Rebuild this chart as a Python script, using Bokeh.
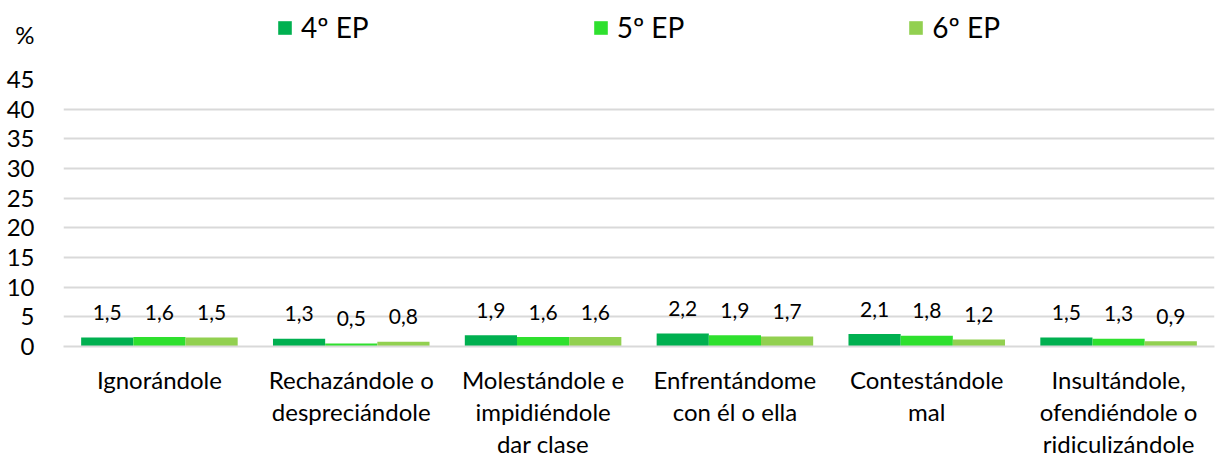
from bokeh.plotting import figure
from bokeh.models import ColumnDataSource, Legend, LegendItem, FactorRange, FixedTicker
from bokeh.layouts import column
from bokeh.transform import dodge
from bokeh.embed import file_html
from bokeh.resources import INLINE
from bokeh.core.properties import value

categories = ["Ignorándole", "Rechazándole o\ndespreciándole", "Molestándole e\nimpidiéndole\ndar clase",
              "Enfrentándome\ncon él o ella", "Contestándole\nmal", "Insultándole,\nofendiéndole o\nridiculizándole"]
series_names = ["4º EP", "5º EP", "6º EP"]
v4 = [1.5, 1.3, 1.9, 2.2, 2.1, 1.5]
v5 = [1.6, 0.5, 1.6, 1.9, 1.8, 1.3]
v6 = [1.5, 0.8, 1.6, 1.7, 1.2, 0.9]
y_ticks = [0, 5, 10, 15, 20, 25, 30, 35, 40, 45]
unit_label = "%"
colors = ["#00B050", "#2EE02E", "#92D050"]

FONT = "Lato"

def fmt(v):
    return f"{v:.1f}".replace(".", ",")

src = ColumnDataSource(dict(
    cat=categories, v4=v4, v5=v5, v6=v6,
    l4=[fmt(v) for v in v4], l5=[fmt(v) for v in v5], l6=[fmt(v) for v in v6],
))

# ---- header strip: legend and unit label ----
top = figure(width=1224, height=60, x_range=(0, 1151), y_range=(0, 60),
             x_axis_type=None, output_backend="svg", toolbar_location=None,
             min_border=0, min_border_left=63, min_border_right=10)
top.outline_line_color = None
top.grid.visible = False
top.yaxis.ticker = FixedTicker(ticks=[26])
top.yaxis.major_label_overrides = {26: unit_label}
top.yaxis.axis_line_color = None
top.yaxis.major_tick_line_color = None
top.yaxis.minor_tick_line_color = None
top.yaxis.major_label_text_font = FONT
top.yaxis.major_label_text_font_size = "24px"
top.yaxis.major_label_text_color = "#000000"
top.yaxis.major_label_standoff = 23

nan = float("nan")
dummies = []
for col in colors:
    dummies.append(top.vbar(x=[nan], top=[nan], width=1, fill_color=col, line_color=None))
legend = Legend(items=[LegendItem(label=n, renderers=[r]) for n, r in zip(series_names, dummies)],
                orientation="horizontal", location=(213, 16),
                glyph_width=17, glyph_height=17, label_standoff=8, spacing=223,
                label_text_font=FONT, label_text_font_size="28px", label_text_color="#000000",
                border_line_color=None, background_fill_alpha=0, padding=0, margin=0)
top.add_layout(legend, "center")

# ---- main chart ----
p = figure(x_range=FactorRange(*categories), y_range=(0, 45),
           frame_width=1151, frame_height=267,
           output_backend="svg", toolbar_location=None,
           min_border_left=63, min_border_right=10, min_border_top=19, min_border_bottom=0)
p.outline_line_color = None

w = 0.272
offs = [-w, 0.0, w]
for key, off, col in zip(["v4", "v5", "v6"], offs, colors):
    p.vbar(x=dodge("cat", off, range=p.x_range), top=key, width=w, source=src,
           fill_color=col, line_color=None)
    p.text(x=dodge("cat", off, range=p.x_range), y=key, text="l" + key[1], source=src,
           y_offset=-25, text_align="center", text_baseline="middle",
           text_font=value(FONT), text_font_size="21px", text_color="#000000")

p.yaxis.ticker = y_ticks
p.yaxis.axis_line_color = None
p.yaxis.major_tick_line_color = None
p.yaxis.minor_tick_line_color = None
p.yaxis.major_label_text_font = FONT
p.yaxis.major_label_text_font_size = "24px"
p.yaxis.major_label_text_color = "#000000"
p.yaxis.major_label_standoff = 23

p.xaxis.axis_line_color = "#D9D9D9"
p.xaxis.axis_line_width = 2
p.xaxis.major_tick_line_color = None
p.xaxis.minor_tick_line_color = None
p.xaxis.major_label_text_font = FONT
p.xaxis.major_label_text_font_size = "24px"
p.xaxis.major_label_text_line_height = 1.12
p.xaxis.major_label_text_color = "#000000"
p.xaxis.major_label_standoff = 12

p.xgrid.grid_line_color = None
p.ygrid.grid_line_color = "#D9D9D9"
p.ygrid.grid_line_width = 2

layout = column(top, p, spacing=0)
open("out.html", "w").write(file_html(layout, INLINE))
